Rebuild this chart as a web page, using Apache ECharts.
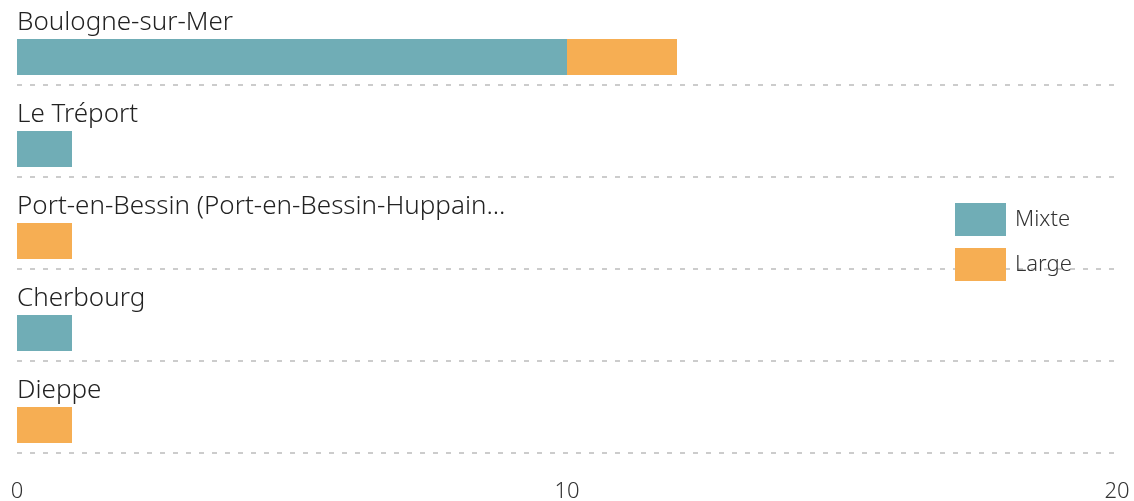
<!DOCTYPE html>
<html>
<head>
<meta charset="utf-8">
<script src="https://cdn.jsdelivr.net/npm/echarts@6/dist/echarts.min.js"></script>
<style>html,body{margin:0;padding:0;background:#fff}#c{width:1134px;height:501px}</style>
</head>
<body>
<div id="c"></div>
<script>
const categories = ["Boulogne-sur-Mer", "Le Tréport", "Port-en-Bessin (Port-en-Bessin-Huppain)", "Cherbourg", "Dieppe"];
const mixte = [10, 1, 0, 1, 0];
const large = [2, 0, 1, 0, 1];
const xTicks = [0, 10, 20];
const FONT = "'Noto Sans', sans-serif";

const chart = echarts.init(document.getElementById('c'), null, {renderer: 'canvas'});
chart.setOption({
  animation: false,
  textStyle: {fontFamily: FONT},
  grid: {left: 17, right: 17, top: -7, bottom: 48, containLabel: false, outerBoundsMode: 'none'},
  legend: {
    orient: 'vertical', left: 955, top: 203, padding: 0,
    icon: 'rect', itemWidth: 51, itemHeight: 33, itemGap: 12,
    data: ['Mixte', 'Large'],
    textStyle: {fontFamily: FONT, fontSize: 22, fontWeight: 300, color: '#333', padding: [2, 0, 0, 4]}
  },
  xAxis: {
    type: 'value', min: xTicks[0], max: xTicks[xTicks.length - 1], interval: 10,
    axisLine: {show: false}, axisTick: {show: false}, splitLine: {show: false},
    axisLabel: {margin: 28, fontSize: 22, fontWeight: 300, color: '#333', fontFamily: FONT}
  },
  yAxis: {
    type: 'category', data: categories, inverse: true,
    axisLine: {show: false}, axisTick: {show: false}, axisLabel: {show: false},
    splitLine: {show: true, lineStyle: {color: '#cccccc', width: 2, type: [5, 8]}}
  },
  series: [
    {
      name: 'pad', type: 'bar', stack: 'pad', data: categories.map(() => 0),
      barWidth: 36, barGap: '0%', silent: true, itemStyle: {color: 'rgba(0,0,0,0)'},
      label: {
        show: true, position: 'insideLeft', distance: 0, offset: [0, 2],
        formatter: p => p.name.length > 38 ? p.name.slice(0, 38) + '...' : p.name,
        fontFamily: FONT, fontSize: 26, fontWeight: 300, color: '#222'
      }
    },
    {name: 'Mixte', type: 'bar', stack: 'total', data: mixte, barWidth: 36, itemStyle: {color: '#70adb6', borderRadius: 0}},
    {name: 'Large', type: 'bar', stack: 'total', data: large, barWidth: 36, itemStyle: {color: '#f6ae53', borderRadius: 0}}
  ]
});
</script>
</body>
</html>
